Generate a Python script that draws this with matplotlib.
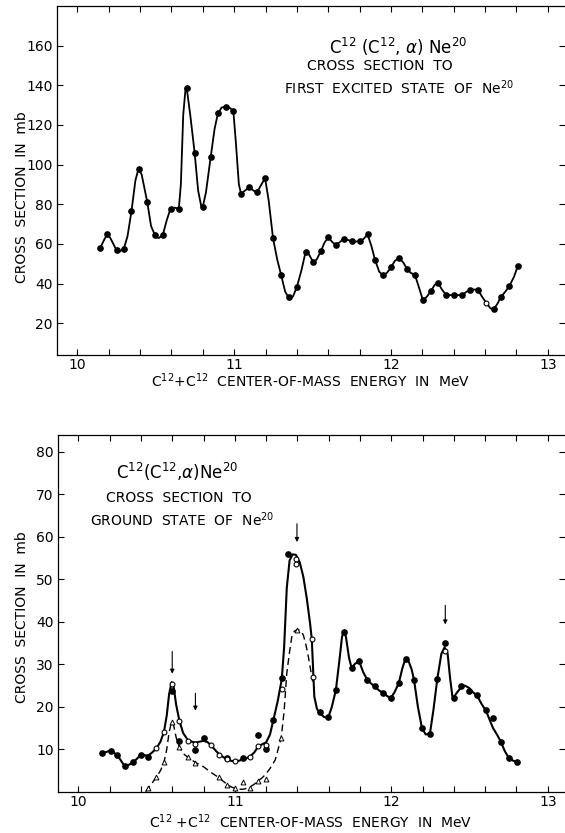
import matplotlib
matplotlib.use("Agg")
from matplotlib import pyplot as plt
import numpy as np

# ---- top panel: first excited state ----
top_e = [10.147, 10.19, 10.25, 10.296, 10.345, 10.396, 10.445, 10.496, 10.545,
         10.594, 10.647, 10.696, 10.748, 10.80, 10.85, 10.896, 10.948, 10.995,
         11.044, 11.097, 11.148, 11.197, 11.248, 11.299, 11.35, 11.40, 11.455,
         11.503, 11.553, 11.60, 11.649, 11.698, 11.749, 11.80, 11.851, 11.898,
         11.951, 12.0, 12.053, 12.102, 12.153, 12.204, 12.256, 12.302, 12.353,
         12.404, 12.456, 12.507, 12.554, 12.656, 12.703, 12.756, 12.81]
top_v = [58.2, 64.8, 56.8, 57.5, 76.5, 97.8, 81.4, 64.6, 64.6,
         77.8, 77.8, 138.4, 105.9, 78.8, 103.7, 125.8, 128.9, 126.8,
         85.2, 88.5, 86.3, 93.2, 62.8, 44.5, 33.0, 38.3, 55.8,
         50.9, 56.3, 63.4, 59.4, 62.6, 61.4, 61.4, 64.8, 52.1,
         44.1, 48.2, 53.0, 47.4, 44.3, 31.5, 36.4, 40.3, 34.2,
         34.2, 34.2, 37.0, 37.0, 27.1, 33.5, 38.9, 49.1]
top_open_e = [12.607]
top_open_v = [30.4]

top_curve_e = [10.147, 10.17, 10.19, 10.21, 10.25, 10.27, 10.296, 10.32, 10.345,
               10.37, 10.39, 10.41, 10.445, 10.47, 10.50, 10.52, 10.545, 10.57,
               10.594, 10.62, 10.647, 10.66, 10.675, 10.69, 10.70, 10.72, 10.748,
               10.77, 10.79, 10.80, 10.82, 10.85, 10.875, 10.896, 10.92, 10.948,
               10.975, 10.995, 11.01, 11.03, 11.044, 11.07, 11.097, 11.125, 11.148,
               11.17, 11.197, 11.22, 11.248, 11.275, 11.299, 11.325, 11.35, 11.375,
               11.40, 11.43, 11.455, 11.475, 11.503, 11.525, 11.553, 11.575, 11.60,
               11.625, 11.649, 11.675, 11.698, 11.725, 11.749, 11.775, 11.80, 11.825,
               11.851, 11.875, 11.898, 11.925, 11.951, 11.975, 12.0, 12.025, 12.053,
               12.08, 12.102, 12.125, 12.153, 12.175, 12.204, 12.23, 12.256, 12.28,
               12.302, 12.325, 12.353, 12.404, 12.456, 12.48, 12.507, 12.554, 12.58,
               12.607, 12.635, 12.656, 12.68, 12.703, 12.73, 12.756, 12.785, 12.81]
top_curve_v = [58.2, 62.0, 64.8, 63.0, 56.8, 56.2, 57.5, 64.0, 76.5,
               92.0, 98.0, 95.0, 81.4, 69.0, 63.5, 63.0, 64.6, 72.0,
               77.8, 78.3, 77.8, 90.0, 125.0, 138.5, 137.0, 125.0, 105.9,
               87.0, 79.0, 78.8, 86.0, 103.7, 118.0, 125.8, 128.8, 129.2,
               128.5, 126.8, 112.0, 90.0, 85.2, 87.0, 88.5, 86.8, 86.3,
               89.5, 93.2, 82.0, 62.8, 52.0, 44.5, 36.0, 32.5, 33.5,
               38.3, 47.0, 55.8, 55.0, 51.0, 52.0, 56.3, 60.5, 63.4,
               61.0, 59.4, 61.0, 62.6, 62.0, 61.4, 61.2, 61.4, 62.5,
               64.8, 59.0, 52.1, 46.0, 44.1, 45.5, 48.2, 51.5, 53.0,
               50.5, 47.4, 45.5, 44.3, 39.0, 31.5, 33.5, 36.4, 39.5,
               40.3, 37.0, 34.2, 34.2, 34.2, 35.8, 37.0, 37.0, 33.5,
               30.4, 27.5, 27.1, 30.0, 33.5, 36.0, 38.9, 43.5, 49.1]

# ---- bottom panel: ground state ----
bot_fill_e = [10.154, 10.207, 10.25, 10.296, 10.35, 10.398, 10.445, 10.596,
              10.646, 10.748, 10.80, 10.95, 11.052, 11.148, 11.199, 11.247,
              11.30, 11.343, 11.545, 11.597, 11.646, 11.697, 11.746, 11.795,
              11.846, 11.895, 11.948, 11.997, 12.048, 12.097, 12.145, 12.196,
              12.247, 12.294, 12.345, 12.398, 12.447, 12.496, 12.549, 12.606,
              12.648, 12.70, 12.75, 12.804]
bot_fill_v = [9.1, 9.7, 8.6, 6.0, 6.9, 8.6, 8.3, 23.8,
              12.0, 9.8, 12.6, 7.9, 7.9, 13.4, 10.0, 16.8,
              26.7, 56.1, 18.8, 17.5, 24.0, 37.6, 29.2, 30.7,
              26.4, 24.8, 23.3, 22.1, 25.6, 31.3, 26.4, 15.0,
              13.6, 26.6, 35.1, 22.2, 24.8, 23.7, 22.9, 19.2,
              17.4, 11.8, 7.9, 7.1]
bot_open_e = [10.498, 10.547, 10.596, 10.646, 10.70, 10.748, 10.848, 10.901,
              10.95, 10.999, 11.10, 11.148, 11.199, 11.30, 11.392, 11.392,
              11.492, 11.497, 12.345]
bot_open_v = [10.2, 14.1, 25.3, 16.7, 12.0, 11.2, 11.0, 8.7,
              7.7, 7.2, 8.3, 10.8, 11.0, 24.3, 54.7, 53.6,
              35.9, 27.1, 33.2]
bot_tri_e = [10.445, 10.498, 10.547, 10.596, 10.646, 10.70, 10.748, 10.90,
             10.95, 10.999, 11.052, 11.10, 11.148, 11.199, 11.296, 11.40]
bot_tri_v = [0.8, 3.4, 6.9, 16.5, 10.5, 8.1, 6.8, 3.5,
             1.7, 1.0, 2.2, 1.0, 2.6, 3.1, 12.6, 38.2]

solid_e = [10.154, 10.207, 10.25, 10.275, 10.296, 10.32, 10.35, 10.375, 10.398,
           10.425, 10.445, 10.47, 10.498, 10.525, 10.547, 10.565, 10.58, 10.596,
           10.61, 10.625, 10.646, 10.67, 10.70, 10.725, 10.748, 10.775, 10.80,
           10.825, 10.848, 10.875, 10.901, 10.925, 10.95, 10.975, 10.999, 11.025,
           11.052, 11.075, 11.10, 11.125, 11.148, 11.175, 11.199, 11.225, 11.247,
           11.275, 11.30, 11.315, 11.332, 11.35, 11.37, 11.39, 11.415, 11.438,
           11.46, 11.481, 11.492, 11.50, 11.508, 11.525, 11.545, 11.57, 11.597,
           11.62, 11.646, 11.67, 11.685, 11.697, 11.71, 11.73, 11.746, 11.77,
           11.795, 11.82, 11.846, 11.87, 11.895, 11.92, 11.948, 11.975, 11.997,
           12.02, 12.048, 12.07, 12.09, 12.11, 12.13, 12.145, 12.17, 12.196,
           12.22, 12.247, 12.27, 12.294, 12.32, 12.34, 12.36, 12.375, 12.39,
           12.398, 12.42, 12.447, 12.47, 12.496, 12.52, 12.549, 12.575, 12.606,
           12.628, 12.65, 12.675, 12.70, 12.725, 12.75, 12.78, 12.804]
solid_v = [9.1, 9.7, 8.6, 7.2, 6.0, 6.3, 6.9, 7.8, 8.6,
           8.6, 8.5, 9.2, 10.2, 11.8, 14.1, 18.0, 23.0, 25.8,
           24.5, 20.5, 16.7, 13.8, 12.2, 11.8, 11.6, 11.8, 12.0,
           11.7, 11.0, 9.8, 8.8, 8.2, 7.7, 7.3, 7.2, 7.3,
           7.6, 7.9, 8.4, 9.3, 10.6, 11.2, 11.6, 13.5, 17.0,
           21.5, 26.5, 34.0, 48.0, 54.5, 55.9, 55.8, 54.0, 50.6,
           45.5, 39.6, 35.9, 29.0, 22.4, 19.5, 18.5, 17.6, 17.5,
           20.0, 24.0, 31.5, 36.5, 37.8, 36.5, 31.5, 29.2, 30.2,
           30.7, 28.2, 26.4, 25.5, 24.8, 23.9, 23.3, 22.5, 22.1,
           23.4, 25.6, 29.0, 31.3, 30.8, 28.8, 26.4, 20.0, 15.0,
           13.5, 13.7, 19.5, 26.6, 32.5, 34.0, 32.5, 27.0, 22.5,
           22.2, 23.4, 24.6, 25.0, 24.5, 23.5, 22.6, 20.8, 19.0,
           17.0, 15.0, 13.5, 11.8, 9.6, 8.0, 7.3, 7.1]

dash_e = [10.43, 10.445, 10.47, 10.498, 10.525, 10.547, 10.565, 10.58, 10.596,
          10.61, 10.625, 10.646, 10.67, 10.70, 10.725, 10.748, 10.775, 10.80,
          10.825, 10.85, 10.875, 10.90, 10.925, 10.95, 10.975, 11.0, 11.025,
          11.052, 11.075, 11.10, 11.125, 11.148, 11.175, 11.199, 11.225, 11.258,
          11.296, 11.315, 11.332, 11.35, 11.364, 11.38, 11.40, 11.42, 11.438,
          11.455, 11.47, 11.49, 11.497]
dash_v = [0.0, 0.8, 2.0, 3.4, 5.0, 6.9, 10.0, 14.0, 16.5,
          15.5, 12.8, 10.5, 9.0, 8.1, 7.5, 6.9, 6.4, 5.9,
          5.2, 4.5, 3.9, 3.3, 2.5, 1.8, 1.2, 0.8, 0.6,
          0.6, 0.8, 1.2, 1.8, 2.6, 3.3, 4.2, 5.5, 7.5,
          12.6, 19.0, 27.9, 33.0, 36.5, 37.8, 38.2, 38.0, 36.9,
          34.5, 31.8, 27.5, 26.0]

arrow_e = [10.60, 10.748, 11.397, 12.345]
arrow_top = [33.0, 23.2, 63.1, 43.9]
arrow_bot = [27.8, 19.1, 58.8, 39.4]

x_ticks = np.round(np.arange(10.0, 13.01, 0.2), 1)
x_ticklabels = [str(int(t)) if abs(t - round(t)) < 1e-6 else "" for t in x_ticks]

W, H = 565, 833
fig = plt.figure(figsize=(W / 100, H / 100), dpi=100)
plt.rcParams['font.family'] = ['DejaVu Sans']


def style_axes(ax, yticks):
    ax.set_xlim(9.87, 13.11)
    ax.set_xticks(x_ticks)
    ax.set_xticklabels(x_ticklabels)
    ax.set_yticks(yticks)
    ax.set_yticklabels([str(t) for t in yticks])
    ax.spines['right'].set_visible(False)
    for s in ['left', 'top', 'bottom']:
        ax.spines[s].set_linewidth(0.9)
    ax.tick_params(direction='in', length=4, width=0.8, top=True, right=True,
                   labelsize=10, pad=3)
    ax.tick_params(axis='x', pad=2)


def px_ax(x0, y0, x1, y1):
    return [x0 / W, 1 - y1 / H, (x1 - x0) / W, (y1 - y0) / H]


ax1 = fig.add_axes(px_ax(57, 6, 565, 355))
ax1.set_ylim(4, 180)
style_axes(ax1, list(range(20, 161, 20)))
ax1.plot(top_curve_e, top_curve_v, color='black', lw=1.3)
ax1.plot(top_e, top_v, 'o', color='black', ms=3.8)
ax1.plot(top_open_e, top_open_v, 'o', mfc='white', mec='black', mew=0.8, ms=3.5)

ax2 = fig.add_axes(px_ax(58, 435, 565, 791.8))
ax2.set_ylim(0, 84)
style_axes(ax2, list(range(10, 81, 10)))
ax2.plot(solid_e, solid_v, color='black', lw=1.5)
ax2.plot(dash_e, dash_v, color='black', lw=1.0, dashes=(5, 3))
ax2.plot(bot_fill_e, bot_fill_v, 'o', color='black', ms=3.8)
ax2.plot(bot_open_e, bot_open_v, 'o', mfc='white', mec='black', mew=0.8, ms=3.5)
ax2.plot(bot_tri_e, bot_tri_v, '^', mfc='white', mec='black', mew=0.7, ms=3.5)
for e, t, b in zip(arrow_e, arrow_top, arrow_bot):
    ax2.annotate('', xy=(e, b), xytext=(e, t),
                 arrowprops=dict(arrowstyle='-|>', color='black', lw=0.8,
                                 mutation_scale=6, shrinkA=0, shrinkB=0))

# text labels
ylab = "CROSS  SECTION  IN  mb"
xlab = r"C$^{12}$+C$^{12}$  CENTER-OF-MASS  ENERGY  IN  MeV"
fig.text(22 / W, 1 - 197 / H, ylab, rotation=90, ha='center', va='center', fontsize=10)
fig.text(22 / W, 1 - 617 / H, ylab, rotation=90, ha='center', va='center', fontsize=10)
fig.text(310 / W, 1 - 381 / H, xlab, ha='center', va='center', fontsize=10)
fig.text(311 / W, 1 - 822 / H, r"C$^{12}$ +C$^{12}$  CENTER-OF-MASS  ENERGY  IN  MeV",
         ha='center', va='center', fontsize=10)

fig.text(398 / W, 1 - 47 / H, r"C$^{12}$ (C$^{12}$, $\alpha$) Ne$^{20}$",
         ha='center', va='center', fontsize=12)
fig.text(380 / W, 1 - 66 / H, "CROSS  SECTION  TO", ha='center', va='center', fontsize=10)
fig.text(399 / W, 1 - 88 / H, r"FIRST  EXCITED  STATE  OF  Ne$^{20}$",
         ha='center', va='center', fontsize=10)

fig.text(177 / W, 1 - 472 / H, r"C$^{12}$(C$^{12}$,$\alpha$)Ne$^{20}$",
         ha='center', va='center', fontsize=12)
fig.text(179 / W, 1 - 498 / H, "CROSS  SECTION  TO", ha='center', va='center', fontsize=10)
fig.text(182 / W, 1 - 520 / H, r"GROUND  STATE  OF  Ne$^{20}$",
         ha='center', va='center', fontsize=10)

fig.savefig("out.png", dpi=100)
